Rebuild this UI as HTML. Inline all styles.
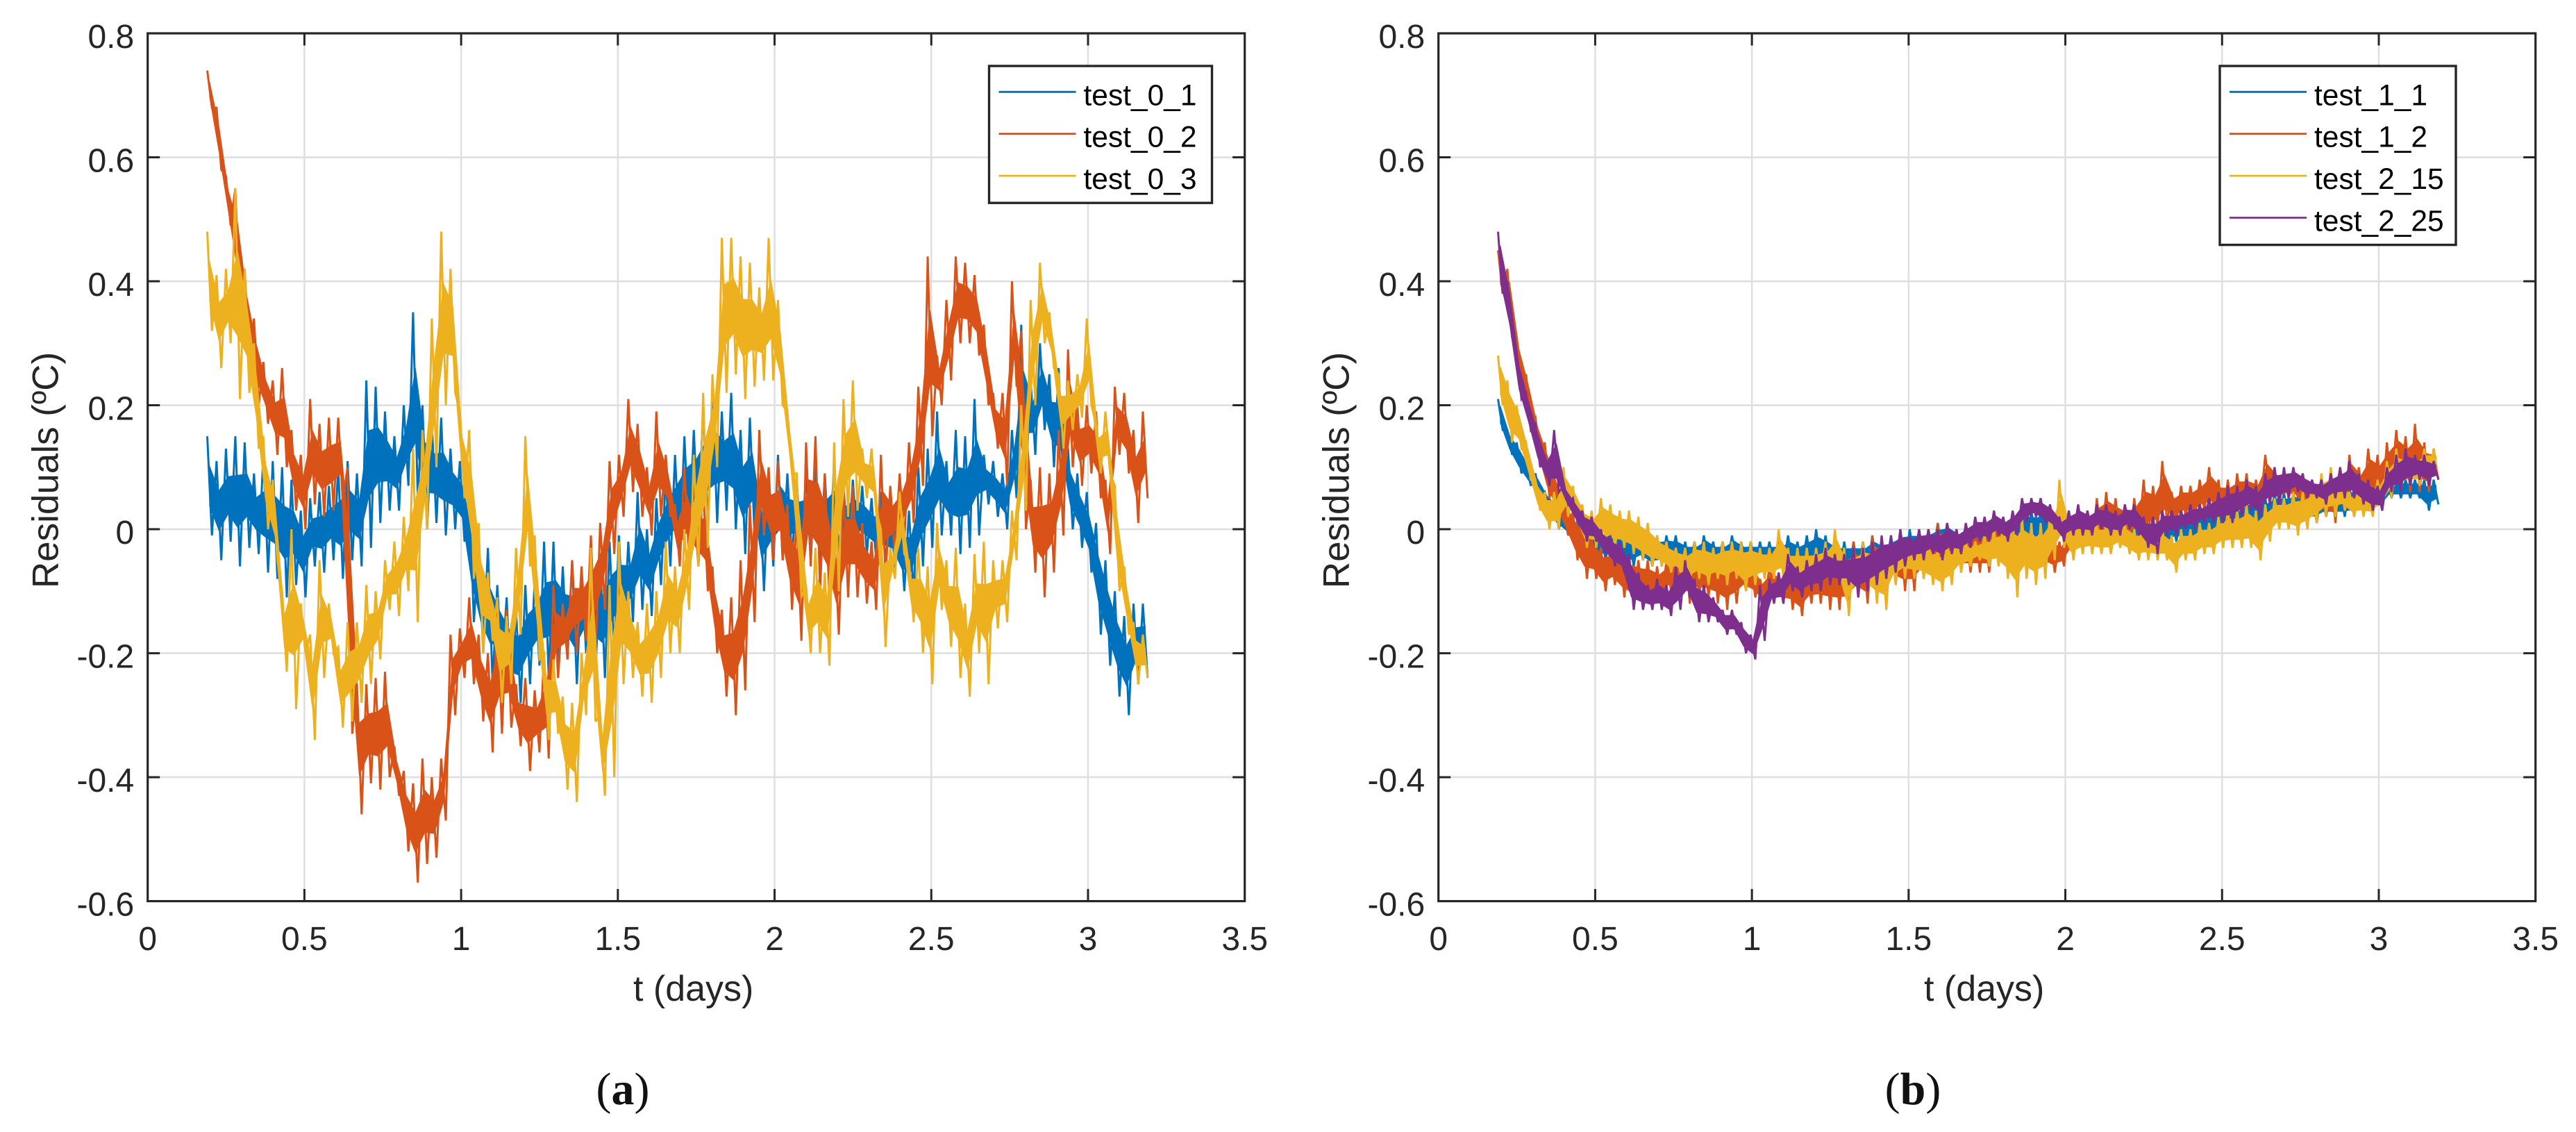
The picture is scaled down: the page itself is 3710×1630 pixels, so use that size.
<!DOCTYPE html>
<html lang="en">
<head>
<meta charset="utf-8">
<title>Residuals over time</title>
<style>
html,body{margin:0;padding:0;background:#fff;width:3710px;height:1630px;overflow:hidden}
svg{display:block}
text{font-family:"Liberation Sans",Arial,sans-serif;fill:#262626}
.cap{font-family:"Liberation Serif","Times New Roman",serif;fill:#111}
</style>
</head>
<body>
<svg id="figure" xmlns="http://www.w3.org/2000/svg" width="3710" height="1630" viewBox="0 0 3710 1630"></svg>
<script>
const xTicks = [0, 0.5, 1, 1.5, 2, 2.5, 3, 3.5];
const xTickLabels = ['0', '0.5', '1', '1.5', '2', '2.5', '3', '3.5'];
const yTicks = [0.8, 0.6, 0.4, 0.2, 0, -0.2, -0.4, -0.6];
const yTickLabels = ['0.8', '0.6', '0.4', '0.2', '0', '-0.2', '-0.4', '-0.6'];
const timeStart = 0.19;
const timeEnd = 3.19;

const test01 = [.15,-.01,.11,-.05,.13,-.02,.15,-.06,.14,-.03,.09,-.04,.12,-.07,.11,-.08,.1,-.11,.08,-.09,.03,-.11,.05,-.06,.06,-.07,.07,-.05,.1,-.08,.11,-.05,.09,-.06,.24,-.03,.23,.01,.19,.03,.15,.03,.2,.07,.35,.05,.2,0,.17,.01,.18,-.01,.13,0,.11,-.02,.07,-.15,-.03,-.2,-.03,-.25,-.09,-.23,-.11,-.28,-.13,-.28,-.09,-.25,-.08,-.22,-.02,-.24,-.02,-.23,-.06,-.21,-.05,-.25,-.07,-.2,-.03,-.23,-.05,-.24,-.02,-.2,-.01,-.17,-.02,-.15,.06,-.13,0,-.14,.05,-.09,.09,-.06,.12,-.04,.15,-.02,.16,0,.2,0,.22,.01,.19,.03,.22,0,.16,-.04,.18,-.01,.08,-.1,.08,-.06,.12,-.05,.09,-.05,.08,-.04,.09,-.05,.1,-.07,.09,-.05,.11,-.04,.07,-.04,.08,-.03,.07,-.04,.05,-.05,.06,-.06,.06,-.07,.02,-.1,.03,-.11,.1,-.06,.13,-.03,.19,-.01,.11,-.01,.16,-.04,.15,-.03,.21,-.01,.12,.04,.11,.02,.09,0,.16,.05,.33,.08,.24,.12,.3,.16,.25,.1,.26,.07,.13,0,.09,-.03,.06,-.07,.01,-.17,-.05,-.22,-.1,-.27,-.14,-.3,-.12,-.25,-.12,-.24];
const test02 = [.74,.68,.68,.58,.57,.49,.55,.36,.42,.27,.34,.2,.27,.17,.24,.12,.26,.1,.16,.03,.12,0,.21,.04,.17,.02,.18,.03,.18,.05,.1,-.33,-.25,-.46,-.25,-.41,-.24,-.42,-.23,-.4,-.35,-.43,-.39,-.52,-.41,-.57,-.37,-.54,-.4,-.53,-.37,-.47,-.17,-.3,-.16,-.24,-.11,-.25,-.17,-.31,-.2,-.36,-.12,-.33,-.13,-.32,-.25,-.35,-.24,-.39,-.26,-.36,-.2,-.37,-.09,-.24,-.12,-.21,-.05,-.2,-.06,-.18,-.01,-.2,.01,-.13,.11,-.04,.12,.02,.21,.06,.17,.02,.1,-.01,.19,.02,.12,.02,.04,-.06,.1,-.05,.04,-.06,.07,-.1,-.06,-.2,-.13,-.27,-.11,-.3,-.05,-.26,.04,-.15,.16,-.01,.1,-.05,.11,-.05,.04,-.13,.02,-.18,.14,-.06,.15,-.1,.09,-.12,0,-.17,.07,-.11,.07,-.11,.01,-.12,-.02,-.13,.12,-.08,.07,-.04,.09,-.02,.14,.01,.23,.07,.44,.15,.28,.2,.37,.24,.44,.3,.43,.3,.41,.28,.33,.2,.22,.13,.22,.07,.4,.23,.32,0,.08,-.07,.1,-.11,.09,-.07,.16,-.01,.29,.1,.2,.07,.2,.09,.19,.05,.08,-.04,.23,.12,.22,.09,.16,.01,.19,.05];
const test03 = [.48,.32,.41,.26,.42,.3,.55,.21,.42,.22,.3,.13,.15,0,.08,-.05,-.1,-.23,0,-.29,-.12,-.2,-.17,-.34,-.05,-.24,-.12,-.2,-.19,-.32,-.15,-.31,-.15,-.28,-.09,-.25,-.1,-.21,-.05,-.13,-.02,-.14,.02,-.1,.13,-.15,.16,0,.34,.1,.48,.2,.42,.22,.19,.05,.16,-.08,.01,-.2,-.07,-.18,-.11,-.28,-.14,-.25,-.03,-.17,.15,-.06,-.01,-.21,-.2,-.34,-.21,-.33,-.27,-.42,-.28,-.44,-.2,-.3,-.03,-.31,-.3,-.43,-.09,-.4,-.02,-.25,-.1,-.24,-.15,-.27,-.12,-.28,-.1,-.24,-.02,-.2,-.06,-.2,0,-.13,.12,-.06,.22,-.03,.25,.1,.47,.22,.47,.25,.44,.21,.43,.23,.39,.24,.47,.24,.37,.2,.19,.09,.09,-.11,-.09,-.2,-.03,-.2,-.07,-.22,.14,-.1,.21,.02,.24,.03,.13,.05,.13,.03,0,-.19,-.03,-.08,.06,-.04,-.05,-.15,-.03,-.2,-.06,-.25,.01,-.13,-.05,-.19,-.03,-.24,-.12,-.27,-.04,-.2,-.02,-.25,-.05,-.16,-.05,-.15,.03,-.05,.2,.03,.37,.2,.43,.3,.35,.26,.25,.13,.24,.16,.25,.18,.34,.2,.17,.09,.19,.09,.07,-.1,-.06,-.17,-.15,-.25,-.17,-.24];

const test11 = [.21,.16,.16,.12,.14,.09,.11,.07,.09,.05,.06,.03,.05,0,.03,-.01,.02,-.03,.02,-.03,.01,-.05,0,-.05,0,-.05,-.01,-.05,-.01,-.06,-.01,-.05,-.02,-.06,-.01,-.06,-.01,-.05,-.01,-.06,-.02,-.06,-.02,-.06,-.01,-.05,-.02,-.06,-.02,-.06,-.01,-.05,-.02,-.06,-.02,-.06,-.02,-.06,-.02,-.06,-.02,-.06,-.01,-.06,-.02,-.06,-.01,-.06,0,-.06,-.01,-.06,-.02,-.07,-.02,-.07,-.02,-.07,-.02,-.07,-.01,-.06,-.02,-.06,-.01,-.06,0,-.06,0,-.05,0,-.05,0,-.04,.01,-.04,.01,-.03,0,-.04,0,-.03,0,-.03,.01,-.03,.01,-.03,.01,-.03,.02,-.02,.03,-.02,.03,-.02,.03,-.02,.03,-.01,.03,-.02,.03,-.02,.03,-.02,.02,-.02,.02,-.03,.02,-.02,.02,-.03,.02,-.03,.02,-.02,.02,-.03,.02,-.03,.01,-.03,.02,-.02,.02,-.02,.02,-.02,.03,-.02,.03,-.01,.03,-.01,.04,-.01,.04,-.01,.05,0,.05,0,.05,.01,.06,.01,.06,.01,.06,.02,.06,.01,.06,.01,.06,.02,.06,.02,.06,.02,.07,.02,.07,.03,.07,.03,.07,.03,.08,.05,.08,.05,.08,.05,.08,.05,.08,.03,.08,.04];
const test12 = [.45,.38,.42,.32,.31,.22,.25,.17,.18,.11,.14,.05,.09,.02,.05,-.01,.03,-.05,.01,-.08,-.01,-.08,-.03,-.1,-.03,-.09,-.03,-.11,-.04,-.12,-.05,-.11,-.05,-.12,-.06,-.12,-.05,-.1,-.04,-.11,-.03,-.12,-.03,-.11,-.04,-.11,-.03,-.12,-.04,-.13,-.04,-.12,-.05,-.1,-.05,-.11,-.08,-.12,-.06,-.11,-.07,-.12,-.05,-.13,-.07,-.14,-.06,-.12,-.05,-.12,-.03,-.13,-.04,-.13,-.03,-.13,-.02,-.11,-.03,-.12,-.01,-.09,-.02,-.1,-.01,-.09,-.01,-.1,-.01,-.1,0,-.08,0,-.07,.01,-.07,.01,-.06,0,-.07,0,-.07,0,-.07,0,-.07,.01,-.05,0,-.06,0,-.05,-.01,-.06,0,-.06,-.01,-.06,-.01,-.07,-.02,-.06,.01,-.04,.02,-.04,.03,-.03,.05,-.02,.06,-.01,.05,-.02,.04,-.02,.05,-.01,.08,-.01,.07,0,.11,.01,.06,.01,.07,.02,.07,.02,.08,.03,.1,.03,.08,.02,.08,.02,.09,.03,.09,.03,.08,.04,.12,.05,.1,.04,.09,.05,.08,.05,.08,.03,.07,.01,.08,.02,.09,.01,.1,.03,.12,.05,.1,.04,.13,.05,.12,.04,.14,.07,.16,.08,.15,.06,.17,.06,.14,.06,.13,.08];
const test215 = [.28,.2,.24,.14,.2,.13,.14,.08,.08,.03,.06,0,.06,0,.1,.02,.07,.01,.04,-.03,.03,-.03,.05,-.02,.04,-.03,.03,-.03,.03,-.04,.02,-.05,.01,-.06,-.01,-.06,-.02,-.07,-.03,-.07,-.03,-.09,-.02,-.08,-.02,-.09,-.03,-.08,-.02,-.09,-.02,-.08,-.02,-.1,-.02,-.09,-.03,-.08,-.03,-.08,0,-.08,-.03,-.09,-.03,-.09,-.03,-.09,-.03,-.08,-.02,-.09,0,-.08,-.03,-.14,-.03,-.1,-.02,-.1,-.02,-.12,-.02,-.13,-.01,-.09,0,-.08,-.01,-.08,-.02,-.08,-.02,-.09,-.03,-.1,-.02,-.09,-.01,-.07,-.02,-.06,-.02,-.05,-.01,-.06,0,-.06,.01,-.08,.02,-.11,.02,-.08,.01,-.09,.01,-.08,.03,-.05,.08,-.03,.01,-.05,.01,-.04,.02,-.04,.01,-.04,.01,-.04,.01,-.03,.01,-.04,0,-.05,.01,-.05,0,-.05,0,-.05,-.01,-.07,0,-.05,0,-.05,.01,-.04,.01,-.04,.02,-.03,.03,-.03,.03,-.03,.04,-.03,.03,-.05,.04,-.02,.05,0,.05,0,.06,-.01,.06,0,.07,.01,.09,.02,.1,.02,.08,.03,.06,.02,.07,.02,.06,.02,.08,.03,.11,.05,.13,.06,.12,.07,.12,.07,.13,.08,.13,.08];
const test225 = [.48,.38,.4,.31,.28,.21,.22,.16,.17,.1,.12,.07,.16,.06,.07,.04,.05,.01,.03,-.02,.02,-.02,0,-.04,-.01,-.06,-.02,-.07,-.04,-.13,-.07,-.13,-.09,-.13,-.08,-.13,-.09,-.14,-.06,-.13,-.05,-.11,-.08,-.15,-.09,-.15,-.11,-.15,-.13,-.17,-.13,-.17,-.15,-.2,-.17,-.21,-.09,-.18,-.08,-.12,-.07,-.12,-.04,-.1,-.06,-.11,-.05,-.1,-.04,-.1,-.03,-.09,-.04,-.09,-.04,-.09,-.03,-.11,-.03,-.1,-.02,-.09,-.01,-.08,-.01,-.07,0,-.06,-.01,-.05,0,-.05,0,-.04,0,-.05,.01,-.04,0,-.04,.01,-.03,.02,-.02,.02,-.02,.03,-.01,.02,-.02,.03,-.01,.05,.01,.05,.02,.05,.01,.04,0,.02,-.02,.03,-.01,.04,-.01,.03,-.01,.04,0,.04,-.01,.03,-.01,.04,0,.04,-.01,.02,-.03,.02,-.04,.03,-.01,.03,-.01,.03,0,.04,0,.04,.01,.05,.01,.06,.01,.07,.01,.07,.02,.08,.03,.07,.02,.09,.04,.1,.04,.1,.05,.1,.06,.09,.05,.08,.05,.08,.04,.09,.05,.1,.05,.11,.05,.09,.04,.08,.03,.07,.03,.1,.06,.12,.06,.13,.07,.12,.08,.12,.07,.11,.08];

const namesA = ['test_0_1', 'test_0_2', 'test_0_3'];
const namesB = ['test_1_1', 'test_1_2', 'test_2_15', 'test_2_25'];
const seriesA = [test01, test02, test03];
const seriesB = [test11, test12, test215, test225];
const colors = ['#0072BD', '#D95319', '#EDB120', '#7E2F8E'];

const NS = 'http://www.w3.org/2000/svg';
const svg = document.getElementById('figure');
function mk(parent, tag, props, txt) {
  const el = document.createElementNS(NS, tag);
  for (const k in props) el.setAttribute(k, props[k]);
  if (txt !== undefined) el.textContent = txt;
  parent.appendChild(el);
  return el;
}

function drawPanel(id, left, names, series, lg, coreShare) {
  const right = left + 1580, top = 48, bottom = 1297.6;
  const xScale = v => left + (v / 3.5) * (right - left);
  const yScale = v => top + ((0.8 - v) / 1.4) * (bottom - top);
  const g = mk(svg, 'g', {});
  
  

  xTicks.forEach((v, i) => {
    if (i > 0 && i < xTicks.length - 1) {
      const gl = mk(g, 'line', {x1: xScale(v), x2: xScale(v), y1: top, y2: bottom, stroke: '#dfdfdf', 'stroke-width': 2.5});
      
      
    }
  });
  yTicks.forEach((v, i) => {
    if (i > 0 && i < yTicks.length - 1) {
      const gl = mk(g, 'line', {x1: left, x2: right, y1: yScale(v), y2: yScale(v), stroke: '#dfdfdf', 'stroke-width': 2.6});
      
      
    }
  });

  series.forEach((vals, s) => {
    const tAt = i => timeStart + (timeEnd - timeStart) * i / (vals.length - 1);
    const upper = [], lower = [];
    for (let i = 0; i + 1 < vals.length; i += 2) {
      const mid = (vals[i] + vals[i + 1]) / 2, half = (vals[i] - vals[i + 1]) / 2 * coreShare;
      const x = xScale(tAt(i + 0.5)).toFixed(1);
      upper.push(x + ',' + yScale(mid + half).toFixed(1));
      lower.unshift(x + ',' + yScale(mid - half).toFixed(1));
    }
    const core = mk(g, 'polygon', {points: upper.concat(lower).join(' '), fill: colors[s], stroke: colors[s], 'stroke-width': 1});
    
    
    const pts = vals.map((v, i) => xScale(tAt(i)).toFixed(1) + ',' + yScale(v).toFixed(1)).join(' ');
    const pl = mk(g, 'polyline', {points: pts, fill: 'none', stroke: colors[s], 'stroke-width': 3, 'stroke-linejoin': 'miter', 'stroke-miterlimit': 3});
    
    
  });

  xTicks.forEach((v, i) => {
    const x = xScale(v);
    if (i > 0 && i < xTicks.length - 1) {
      const t1 = mk(g, 'line', {x1: x, x2: x, y1: bottom, y2: bottom - 17.5, stroke: '#262626', 'stroke-width': 3});
      
      
      const t2 = mk(g, 'line', {x1: x, x2: x, y1: top, y2: top + 17.5, stroke: '#262626', 'stroke-width': 3});
      
      
    }
    const lb = mk(g, 'text', {x: x, y: 1368, 'text-anchor': 'middle', 'font-size': 48}, xTickLabels[i]);
    
    
  });
  yTicks.forEach((v, i) => {
    const y = yScale(v);
    if (i > 0 && i < yTicks.length - 1) {
      const t1 = mk(g, 'line', {x1: left, x2: left + 17.5, y1: y, y2: y, stroke: '#262626', 'stroke-width': 3});
      
      
      const t2 = mk(g, 'line', {x1: right, x2: right - 17.5, y1: y, y2: y, stroke: '#262626', 'stroke-width': 3});
      
      
    }
    const lb = mk(g, 'text', {x: left - 19.5, y: y + 21, 'text-anchor': 'end', 'font-size': 48}, yTickLabels[i]);
    
    
  });

  const box = mk(g, 'rect', {x: left, y: top, width: right - left, height: bottom - top, fill: 'none', stroke: '#262626', 'stroke-width': 3.2});
  
  

  const xt = mk(g, 'text', {x: left + 786, y: 1441, 'text-anchor': 'middle', 'font-size': 52}, 't (days)');
  
  
  const yx = left - 129;
  const yt = mk(g, 'text', {x: yx, y: 677, 'text-anchor': 'middle', 'font-size': 53, transform: 'rotate(-90 ' + yx + ' 677)'}, 'Residuals (ºC)');
  
  

  const leg = mk(g, 'g', {});
  
  
  const lr = mk(leg, 'rect', {x: lg.x, y: 95, width: lg.w, height: 60.4 * names.length + 16, fill: '#fff', stroke: '#262626', 'stroke-width': 3.4});
  
  
  names.forEach((n, i) => {
    const y = 132.3 + i * 60.4;
    const ln = mk(leg, 'line', {x1: lg.x + 14, x2: lg.x + 125, y1: y, y2: y, stroke: colors[i], 'stroke-width': 2.8});
    
    
    const tx = mk(leg, 'text', {x: lg.x + 136, y: y + 19, 'font-size': 42.5, style: 'fill:#000'}, n);
    
    
  });
}

drawPanel('a', 212.7, namesA, seriesA, {x: 1424.5, w: 321}, 0.4);
drawPanel('b', 2071.7, namesB, seriesB, {x: 3197, w: 340}, 0.55);

const capA = mk(svg, 'text', {class: 'cap', x: 897, y: 1590, 'text-anchor': 'middle', 'font-size': 66});


capA.innerHTML = '(<tspan font-weight="bold">a</tspan>)';
const capB = mk(svg, 'text', {class: 'cap', x: 2755, y: 1590, 'text-anchor': 'middle', 'font-size': 66});


capB.innerHTML = '(<tspan font-weight="bold">b</tspan>)';
</script>
</body>
</html>
